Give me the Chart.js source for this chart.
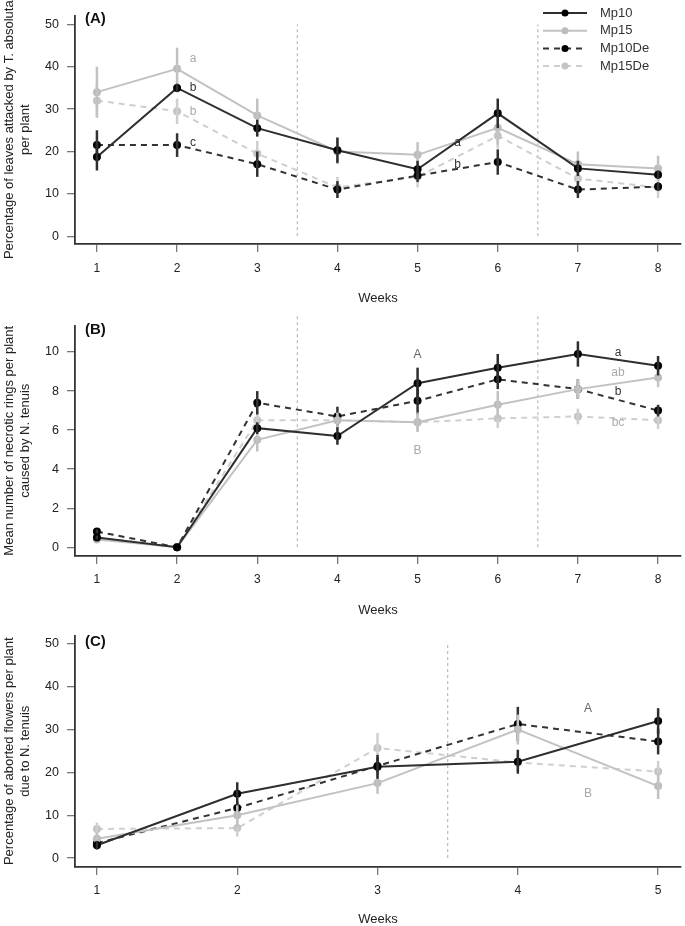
<!DOCTYPE html>
<html>
<head>
<meta charset="utf-8">
<script src="https://cdn.jsdelivr.net/npm/chart.js@4.4.1/dist/chart.umd.min.js"></script>
<style>
  body { margin:0; background:#fff; width:685px; height:926px; position:relative; overflow:hidden; }
  canvas { position:absolute; left:0; }
</style>
</head>
<body>
<canvas id="chartA" width="685" height="310" style="top:0"></canvas>
<canvas id="chartB" width="685" height="310" style="top:310px"></canvas>
<canvas id="chartC" width="685" height="306" style="top:620px"></canvas>
<script>
// ---- data ----
const seriesNames = ["Mp10", "Mp15", "Mp10De", "Mp15De"];
const weeksAB = [1, 2, 3, 4, 5, 6, 7, 8];
const weeksC = [1, 2, 3, 4, 5];
const ticksA = [0, 10, 20, 30, 40, 50];
const ticksB = [0, 2, 4, 6, 8, 10];
const ticksC = [0, 10, 20, 30, 40, 50];

// (A) % leaves attacked by T. absoluta
const leavesMp10   = [18.7, 35, 25.5, 20.3, 15.8, 29, 16, 14.5];
const leavesMp15   = [34, 39.5, 28.5, 20, 19.2, 25.6, 17, 16];
const leavesMp10De = [21.5, 21.5, 17, 11, 14.3, 17.5, 11, 11.7];
const leavesMp15De = [32, 29.5, 19.5, 11.5, 14, 23.7, 13.6, 11.5];
const leavesErrMp10   = [3.2, 1, 2, 3, 2, 3.5, 1.8, 1];
const leavesErrMp15   = [6, 5, 4, 3, 3, 4, 3, 3];
const leavesErrMp10De = [3.5, 2.8, 3, 2, 1.5, 3, 2, 1];
const leavesErrMp15De = [4, 3, 3, 2.5, 2.5, 3, 2, 2.5];

// (B) necrotic rings caused by N. tenuis
const ringsMp10   = [0.5, 0, 6.1, 5.7, 8.4, 9.2, 9.9, 9.3];
const ringsMp15   = [0.4, 0, 5.5, 6.5, 6.4, 7.3, 8.1, 8.7];
const ringsMp10De = [0.8, 0, 7.4, 6.7, 7.5, 8.6, 8.1, 7.0];
const ringsMp15De = [0.5, 0, 6.5, 6.5, 6.4, 6.6, 6.7, 6.5];
const ringsErrMp10   = [0.1, 0, 0.3, 0.45, 0.8, 0.7, 0.65, 0.5];
const ringsErrMp15   = [0.15, 0, 0.6, 0.4, 0.5, 0.7, 0.5, 0.5];
const ringsErrMp10De = [0.1, 0, 0.6, 0.5, 0.7, 0.5, 0.5, 0.3];
const ringsErrMp15De = [0.1, 0, 0.5, 0.3, 0.45, 0.5, 0.4, 0.45];

// (C) % aborted flowers due to N. tenuis
const flowersMp10   = [3, 15, 21.3, 22.5, 32];
const flowersMp15   = [4.5, 10, 17.5, 30, 16.8];
const flowersMp10De = [3.5, 11.7, 21.5, 31.3, 27.2];
const flowersMp15De = [6.8, 7, 25.7, 22.3, 20.2];
const flowersErrMp10   = [1, 2.7, 2.8, 2.8, 3];
const flowersErrMp15   = [1.5, 3, 2.5, 3.5, 3];
const flowersErrMp10De = [1, 1.5, 2, 4, 3];
const flowersErrMp15De = [1.5, 2, 3.5, 2, 2.5];

// significance letters [x, y, text, tone]
const lettersA = [[2.2, 42, "a", "light"], [2.2, 35, "b", "dark"], [2.2, 29.5, "b", "light"], [2.2, 22, "c", "dark"],
                  [5.5, 22, "a", "dark"], [5.5, 16.8, "b", "dark"]];
const lettersB = [[5, 9.85, "A", "mid"], [5, 4.95, "B", "light"], [7.5, 9.95, "a", "dark"],
                  [7.5, 8.95, "ab", "light"], [7.5, 7.95, "b", "dark"], [7.5, 6.4, "bc", "light"]];
const lettersC = [[4.5, 34.9, "A", "mid"], [4.5, 15, "B", "light"]];

// ---- styling ----
Chart.defaults.font.family = "'Liberation Sans', Arial, sans-serif";
const styles = [
  { line: "#2e2e2e", point: "#000", dash: [] },
  { line: "#c2c2c2", point: "#bdbdbd", dash: [] },
  { line: "#333", point: "#000", dash: [6, 5] },
  { line: "#cfcfcf", point: "#c4c4c4", dash: [6, 5] }
];
const tones = { dark: "#333", mid: "#666", light: "#aaa" };

function makeDatasets(weeks, values, errors) {
  return seriesNames.map((name, k) => ({
    label: name,
    data: weeks.map((w, i) => ({ x: w, y: values[k][i] })),
    errors: errors[k],
    borderColor: styles[k].line,
    backgroundColor: styles[k].point,
    pointBackgroundColor: styles[k].point,
    pointBorderWidth: 0,
    pointRadius: 4,
    borderWidth: 2,
    borderDash: styles[k].dash,
    tension: 0
  }));
}

// error bars drawn per dataset
const errorBars = {
  id: "errorBars",
  afterDatasetDraw(chart, args) {
    const ds = chart.data.datasets[args.index];
    if (!ds.errors) return;
    const { ctx } = chart, xs = chart.scales.x, ys = chart.scales.y;
    ctx.save();
    ctx.strokeStyle = ds.borderColor;
    ctx.lineWidth = 2.5;
    ds.data.forEach((p, i) => {
      const e = ds.errors[i];
      if (!e) return;
      const px = xs.getPixelForValue(p.x);
      ctx.beginPath();
      ctx.moveTo(px, ys.getPixelForValue(p.y - e));
      ctx.lineTo(px, ys.getPixelForValue(p.y + e));
      ctx.stroke();
    });
    ctx.restore();
  }
};

// dotted week dividers, letters, panel tag, legend
const decor = {
  id: "decor",
  beforeDatasetsDraw(chart, args, opts) {
    const { ctx } = chart, xs = chart.scales.x, ys = chart.scales.y;
    ctx.save();
    ctx.strokeStyle = "#bbb";
    ctx.lineWidth = 1.2;
    ctx.setLineDash([3, 3]);
    opts.dividers.forEach(d => {
      const px = xs.getPixelForValue(d);
      ctx.beginPath();
      ctx.moveTo(px, ys.getPixelForValue(0));
      ctx.lineTo(px, ys.getPixelForValue(opts.dividerTop));
      ctx.stroke();
    });
    ctx.restore();
  },
  afterDraw(chart, args, opts) {
    const { ctx } = chart, xs = chart.scales.x, ys = chart.scales.y;
    ctx.save();
    ctx.textAlign = "center";
    ctx.textBaseline = "middle";
    ctx.font = "12px 'Liberation Sans', Arial, sans-serif";
    opts.letters.forEach(([x, y, t, tone]) => {
      ctx.fillStyle = tones[tone];
      ctx.fillText(t, xs.getPixelForValue(x), ys.getPixelForValue(y));
    });
    ctx.font = "bold 15px 'Liberation Sans', Arial, sans-serif";
    ctx.fillStyle = "#111";
    ctx.textAlign = "left";
    ctx.fillText(opts.tag, chart.chartArea.left + 10, opts.tagY);
    if (opts.legend) {
      ctx.font = "13px 'Liberation Sans', Arial, sans-serif";
      seriesNames.forEach((name, k) => {
        const y = 13 + k * 17.7;
        ctx.strokeStyle = styles[k].line;
        ctx.lineWidth = 2;
        ctx.setLineDash(styles[k].dash);
        ctx.beginPath();
        ctx.moveTo(543, y);
        ctx.lineTo(587, y);
        ctx.stroke();
        ctx.setLineDash([]);
        ctx.fillStyle = styles[k].point;
        ctx.beginPath();
        ctx.arc(565, y, 3.5, 0, Math.PI * 2);
        ctx.fill();
        ctx.fillStyle = "#333";
        ctx.fillText(name, 600, y);
      });
    }
    ctx.restore();
  }
};

function makeChart(id, p) {
  return new Chart(document.getElementById(id), {
    type: "line",
    data: { datasets: makeDatasets(p.weeks, p.values, p.errors) },
    plugins: [errorBars, decor],
    options: {
      responsive: false,
      animation: false,
      events: [],
      layout: { padding: { top: p.padTop, right: 2, left: 0, bottom: 0 } },
      plugins: {
        legend: { display: false },
        tooltip: { enabled: false },
        decor: { dividers: p.dividers, dividerTop: p.dividerTop, letters: p.letters, tag: p.tag, tagY: p.tagY, legend: p.legend }
      },
      scales: {
        x: {
          type: "linear", min: p.xmin, max: p.xmax,
          afterBuildTicks: s => { s.ticks = p.weeks.map(v => ({ value: v })); },
          afterFit: s => { s.height = p.xHeight; },
          grid: { drawOnChartArea: false, tickLength: 8, color: "#777", lineWidth: 1.3 },
          border: { display: true, color: "#333", width: 1.8 },
          ticks: { padding: p.xPad, color: "#222", font: { size: 12 }, maxRotation: 0, autoSkip: false },
          title: { display: true, text: "Weeks", color: "#222", font: { size: 13, lineHeight: 1 }, padding: { top: 0, bottom: p.titlePad } }
        },
        y: {
          min: p.ymin, max: p.ymax,
          afterBuildTicks: s => { s.ticks = p.yticks.map(v => ({ value: v })); },
          afterFit: s => { s.width = 75; },
          grid: { drawOnChartArea: false, tickLength: 8, color: "#777", lineWidth: 1.3 },
          border: { display: true, color: "#333", width: 1.8 },
          ticks: { padding: 8, color: "#222", font: { size: 12.5 } },
          title: { display: true, text: p.ytitle, color: "#222", font: { size: 13, lineHeight: 1.25 }, padding: { top: 1.5, bottom: 0 } }
        }
      }
    }
  });
}

makeChart("chartA", {
  weeks: weeksAB, yticks: ticksA,
  values: [leavesMp10, leavesMp15, leavesMp10De, leavesMp15De],
  errors: [leavesErrMp10, leavesErrMp15, leavesErrMp10De, leavesErrMp15De],
  xmin: 0.7265, xmax: 8.286, ymin: -1.85, ymax: 52.1,
  padTop: 10, xHeight: 66, xPad: 9, titlePad: 5.5,
  dividers: [3.5, 6.5], dividerTop: 50,
  letters: lettersA, tag: "(A)", tagY: 19, legend: true,
  ytitle: ["Percentage of leaves attacked by T. absoluta", "per plant"]
});

makeChart("chartB", {
  weeks: weeksAB, yticks: ticksB,
  values: [ringsMp10, ringsMp15, ringsMp10De, ringsMp15De],
  errors: [ringsErrMp10, ringsErrMp15, ringsErrMp10De, ringsErrMp15De],
  xmin: 0.7265, xmax: 8.286, ymin: -0.45, ymax: 11.36,
  padTop: 12, xHeight: 64, xPad: 8, titlePad: 3.5,
  dividers: [3.5, 6.5], dividerTop: 12,
  letters: lettersB, tag: "(B)", tagY: 20, legend: false,
  ytitle: ["Mean number of necrotic rings per plant", "caused by N. tenuis"]
});

makeChart("chartC", {
  weeks: weeksC, yticks: ticksC,
  values: [flowersMp10, flowersMp15, flowersMp10De, flowersMp15De],
  errors: [flowersErrMp10, flowersErrMp15, flowersErrMp10De, flowersErrMp15De],
  xmin: 0.8437, xmax: 5.163, ymin: -2.08, ymax: 51.96,
  padTop: 13, xHeight: 59, xPad: 8, titlePad: 0,
  dividers: [3.5], dividerTop: 50,
  letters: lettersC, tag: "(C)", tagY: 22, legend: false,
  ytitle: ["Percentage of aborted flowers per plant", "due to N. tenuis"]
});
</script>
</body>
</html>
